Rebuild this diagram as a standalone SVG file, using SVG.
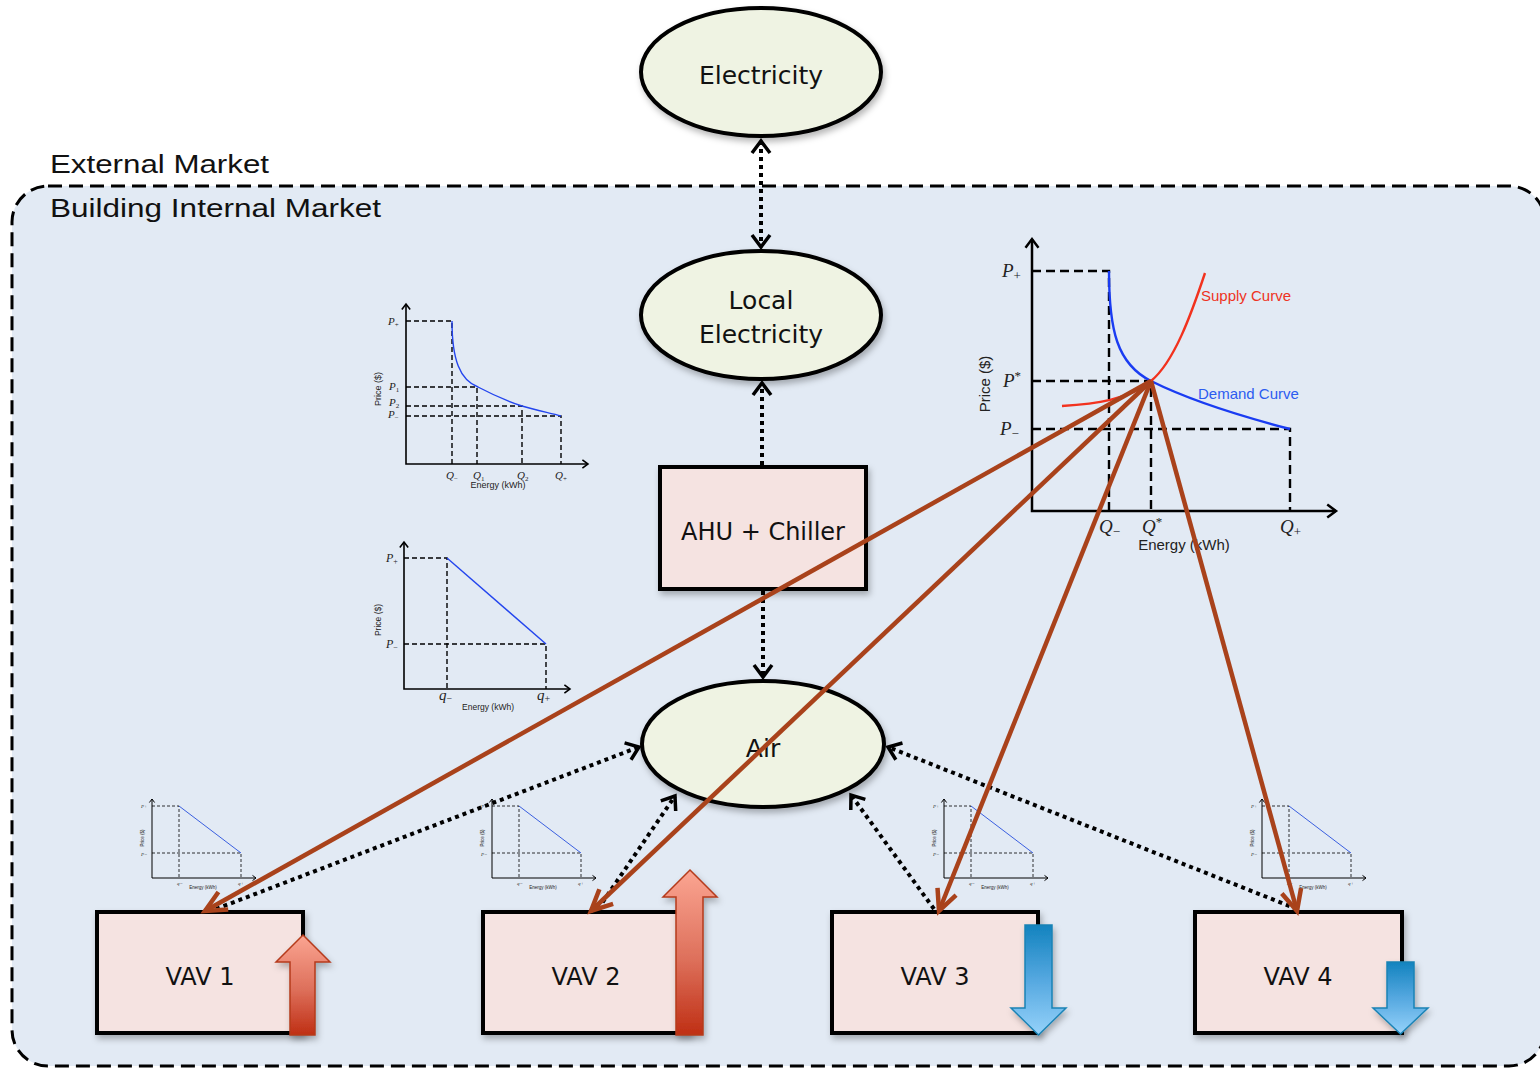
<svg xmlns="http://www.w3.org/2000/svg" xmlns:xlink="http://www.w3.org/1999/xlink" width="1540" height="1069" viewBox="0 0 1540 1069">
  <style>
    .node { fill: #eff3e3; stroke: #000; stroke-width: 4; }
    .box { fill: #f5e3e1; stroke: #000; stroke-width: 4; }
    .label { font-family: "DejaVu Sans", "Liberation Sans", sans-serif; fill: #111; text-anchor: middle; }
    .market { font-family: "Liberation Sans", Arial, sans-serif; font-size: 26px; fill: #111; }
    .dotted { fill: none; stroke: #000; stroke-width: 4; stroke-dasharray: 4 4; }
    .bid { fill: none; stroke: #a9421b; stroke-width: 4.5; }
    .axis { fill: none; stroke: #000; }
    .dash { fill: none; stroke: #000; }
    .math { font-family: "Liberation Serif", "Times New Roman", serif; font-style: italic; fill: #222; }
    .sans { font-family: "Liberation Sans", Arial, sans-serif; fill: #222; }
    .supply { fill: #ee3322; }
    .demand { fill: #2c5cf0; }
  </style>
  <defs>
    <filter id="shadow" x="-20%" y="-20%" width="140%" height="140%">
      <feDropShadow dx="2" dy="4" stdDeviation="3" flood-color="#000" flood-opacity="0.28"/>
    </filter>
    <marker id="open" viewBox="-16 -12 20 24" refX="0" refY="0" markerWidth="20" markerHeight="24" markerUnits="userSpaceOnUse" orient="auto-start-reverse" overflow="visible">
      <path d="M-12,-9 L0,0 L-12,9" fill="none" stroke="#000" stroke-width="3.5" stroke-dasharray="none"/>
    </marker>
    <marker id="bidHead" viewBox="-26 -14 30 28" refX="0" refY="0" markerWidth="30" markerHeight="28" markerUnits="userSpaceOnUse" orient="auto" overflow="visible">
      <path d="M-21,-10 L0,0 L-21,10" fill="none" stroke="#a9421b" stroke-width="4.5"/>
    </marker>
    <marker id="axisHead" viewBox="-5 -4 6 8" refX="0" refY="0" markerWidth="6" markerHeight="8" markerUnits="strokeWidth" orient="auto-start-reverse" overflow="visible">
      <path d="M-3.5,-2.6 L0,0 L-3.5,2.6" fill="none" stroke="#000" stroke-width="1"/>
    </marker>
    <linearGradient id="upGrad" x1="0" y1="0" x2="0" y2="1">
      <stop offset="0" stop-color="#fba592"/>
      <stop offset="0.55" stop-color="#dd6f5a"/>
      <stop offset="1" stop-color="#bf2f14"/>
    </linearGradient>
    <linearGradient id="downGrad" x1="0" y1="0" x2="0" y2="1">
      <stop offset="0" stop-color="#1383bf"/>
      <stop offset="0.5" stop-color="#55a8e0"/>
      <stop offset="1" stop-color="#95d2fa"/>
    </linearGradient>
    <!-- small price/energy chart reused above each VAV box -->
    <g id="miniChart">
      <path d="M0,799 V878 H104" class="axis" stroke="#222" stroke-width="1" marker-start="url(#axisHead)" marker-end="url(#axisHead)"/>
      <path d="M0,806 H27 V878 M0,853 H89 V878" class="dash" stroke="#333" stroke-width="0.8" stroke-dasharray="3 2"/>
      <path d="M27,806 L89,853" fill="none" stroke="#3a5fe0" stroke-width="1"/>
      <text class="math" x="-11" y="808" font-size="5">P+</text>
      <text class="math" x="-11" y="856" font-size="5">P−</text>
      <text class="math" x="25" y="885" font-size="5">q−</text>
      <text class="math" x="86" y="885" font-size="5">q+</text>
      <text class="sans" x="51" y="889" font-size="4.5" text-anchor="middle">Energy (kWh)</text>
      <text class="sans" x="-8" y="838" font-size="4.5" text-anchor="middle" transform="rotate(-90,-8,838)">Price ($)</text>
    </g>
  </defs>

  <rect width="1540" height="1069" fill="#fff"/>

  <!-- building internal market region -->
  <g id="internal-market">
    <rect x="12" y="186" width="1533" height="880" rx="36" fill="#e2eaf4" stroke="#000" stroke-width="3" stroke-dasharray="14 7"/>
    <text class="market" x="50" y="173" textLength="219" lengthAdjust="spacingAndGlyphs">External Market</text>
    <text class="market" x="50" y="217" textLength="331" lengthAdjust="spacingAndGlyphs">Building Internal Market</text>
  </g>

  <!-- aggregated demand curve chart -->
  <g id="chart-aggregate">
    <path d="M406,304 V464 H588" class="axis" stroke-width="1.6" marker-start="url(#axisHead)" marker-end="url(#axisHead)"/>
    <path d="M406,321 H452 V464 M406,387 H477 V464 M406,406 H522 V464 M406,416 H561 V464" class="dash" stroke-width="1.4" stroke-dasharray="5 3"/>
    <path d="M452,321 C452,360 460,380 478,387 C495,396 510,402 522,406 C535,410 550,413 561,416" fill="none" stroke="#2345ee" stroke-width="1.4"/>
    <text class="math" x="388" y="325" font-size="11">P<tspan font-size="7" font-style="normal" dy="2">+</tspan></text>
    <text class="math" x="389" y="390" font-size="11">P<tspan font-size="7" font-style="normal" dy="2">1</tspan></text>
    <text class="math" x="389" y="406" font-size="11">P<tspan font-size="7" font-style="normal" dy="2">2</tspan></text>
    <text class="math" x="388" y="418" font-size="11">P<tspan font-size="7" font-style="normal" dy="2">−</tspan></text>
    <text class="math" x="446" y="479" font-size="11">Q<tspan font-size="7" font-style="normal" dy="2">−</tspan></text>
    <text class="math" x="473" y="479" font-size="11">Q<tspan font-size="7" font-style="normal" dy="2">1</tspan></text>
    <text class="math" x="517" y="479" font-size="11">Q<tspan font-size="7" font-style="normal" dy="2">2</tspan></text>
    <text class="math" x="555" y="479" font-size="11">Q<tspan font-size="7" font-style="normal" dy="2">+</tspan></text>
    <text class="sans" x="498" y="488" font-size="9" text-anchor="middle">Energy (kWh)</text>
    <text class="sans" x="381" y="389" font-size="9" text-anchor="middle" transform="rotate(-90,381,389)">Price ($)</text>
  </g>

  <!-- linear bid curve chart -->
  <g id="chart-linear">
    <path d="M404,542 V689 H570" class="axis" stroke-width="1.6" marker-start="url(#axisHead)" marker-end="url(#axisHead)"/>
    <path d="M404,558 H447 V689 M404,644 H546 V689" class="dash" stroke-width="1.4" stroke-dasharray="5 3"/>
    <path d="M447,558 L546,644" fill="none" stroke="#2345ee" stroke-width="1.4"/>
    <text class="math" x="386" y="562" font-size="12">P<tspan font-size="8" font-style="normal" dy="2">+</tspan></text>
    <text class="math" x="386" y="648" font-size="12">P<tspan font-size="8" font-style="normal" dy="2">−</tspan></text>
    <text class="math" x="439" y="700" font-size="15">q<tspan font-size="10" font-style="normal" dy="2">−</tspan></text>
    <text class="math" x="537" y="700" font-size="15">q<tspan font-size="10" font-style="normal" dy="2">+</tspan></text>
    <text class="sans" x="488" y="710" font-size="8.5" text-anchor="middle">Energy (kWh)</text>
    <text class="sans" x="381" y="620" font-size="8.5" text-anchor="middle" transform="rotate(-90,381,620)">Price ($)</text>
  </g>

  <!-- market clearing chart: supply vs demand -->
  <g id="chart-clearing">
    <path d="M1032,239 V511 H1336" class="axis" stroke-width="2.5" marker-start="url(#axisHead)" marker-end="url(#axisHead)"/>
    <path d="M1032,271 H1109 V511 M1032,381 H1151 V511 M1032,429 H1290 V511" class="dash" stroke-width="2.4" stroke-dasharray="9 5"/>
    <path d="M1109,271 C1109,330 1117,364 1151,381 C1185,398 1240,416 1290,429" fill="none" stroke="#1a3cf2" stroke-width="2.4"/>
    <path d="M1062,406 C1095,404 1128,400 1151,381 C1174,362 1191,315 1205,273" fill="none" stroke="#f2321e" stroke-width="2.4"/>
    <text class="math" x="1002" y="277" font-size="19">P<tspan font-size="13" font-style="normal" dy="3">+</tspan></text>
    <text class="math" x="1003" y="387" font-size="19">P<tspan font-size="13" font-style="normal" dy="-7">*</tspan></text>
    <text class="math" x="1000" y="435" font-size="19">P<tspan font-size="13" font-style="normal" dy="3">−</tspan></text>
    <text class="math" x="1099" y="533" font-size="19">Q<tspan font-size="13" font-style="normal" dy="3">−</tspan></text>
    <text class="math" x="1142" y="533" font-size="19">Q<tspan font-size="13" font-style="normal" dy="-7">*</tspan></text>
    <text class="math" x="1280" y="533" font-size="19">Q<tspan font-size="13" font-style="normal" dy="3">+</tspan></text>
    <text class="sans" x="1184" y="550" font-size="15" text-anchor="middle">Energy (kWh)</text>
    <text class="sans" x="990" y="384" font-size="15" text-anchor="middle" transform="rotate(-90,990,384)">Price ($)</text>
    <text class="sans supply" x="1201" y="301" font-size="15">Supply Curve</text>
    <text class="sans demand" x="1198" y="399" font-size="15">Demand Curve</text>
  </g>

  <!-- bid charts for each VAV -->
  <g id="vav-charts">
    <use xlink:href="#miniChart" transform="translate(152,0)"/>
    <use xlink:href="#miniChart" transform="translate(492,0)"/>
    <use xlink:href="#miniChart" transform="translate(944,0)"/>
    <use xlink:href="#miniChart" transform="translate(1262,0)"/>
  </g>

  <!-- resource flow connectors -->
  <g id="connectors">
    <path d="M761,141 V247" class="dotted" marker-start="url(#open)" marker-end="url(#open)"/>
    <path d="M762,465 V383" class="dotted" marker-end="url(#open)"/>
    <path d="M763,591 V677" class="dotted" marker-end="url(#open)"/>
    <path d="M216,909 L639,747" class="dotted" marker-end="url(#open)"/>
    <path d="M598,909 L675,796" class="dotted" marker-end="url(#open)"/>
    <path d="M934,909 L851,795" class="dotted" marker-end="url(#open)"/>
    <path d="M1297,909 L888,747" class="dotted" marker-end="url(#open)"/>
  </g>

  <!-- energy sources and conversion -->
  <g id="electricity">
    <ellipse cx="761" cy="72" rx="120" ry="64" class="node" filter="url(#shadow)"/>
    <text class="label" x="761" y="84" font-size="25">Electricity</text>
  </g>
  <g id="local-electricity">
    <ellipse cx="761" cy="315" rx="120" ry="64" class="node" filter="url(#shadow)"/>
    <text class="label" x="761" y="309" font-size="25">Local</text>
    <text class="label" x="761" y="343" font-size="25">Electricity</text>
  </g>
  <g id="ahu-chiller">
    <rect x="660" y="467" width="206" height="122" class="box" filter="url(#shadow)"/>
    <text class="label" x="763" y="540" font-size="24">AHU + Chiller</text>
  </g>
  <g id="air">
    <ellipse cx="763" cy="744" rx="121" ry="63" class="node" filter="url(#shadow)"/>
    <text class="label" x="763" y="757" font-size="25">Air</text>
  </g>

  <!-- zone VAV units -->
  <g id="vav1">
    <rect x="97" y="912" width="206" height="121" class="box" filter="url(#shadow)"/>
    <text class="label" x="200" y="985" font-size="24">VAV 1</text>
  </g>
  <g id="vav2">
    <rect x="483" y="912" width="207" height="121" class="box" filter="url(#shadow)"/>
    <text class="label" x="586" y="985" font-size="24">VAV 2</text>
  </g>
  <g id="vav3">
    <rect x="832" y="912" width="206" height="121" class="box" filter="url(#shadow)"/>
    <text class="label" x="935" y="985" font-size="24">VAV 3</text>
  </g>
  <g id="vav4">
    <rect x="1195" y="912" width="207" height="121" class="box" filter="url(#shadow)"/>
    <text class="label" x="1298" y="985" font-size="24">VAV 4</text>
  </g>

  <!-- price signals from the clearing point -->
  <g id="price-signals">
    <path d="M1151,381 L205,911" class="bid" marker-end="url(#bidHead)"/>
    <path d="M1151,381 L591,911" class="bid" marker-end="url(#bidHead)"/>
    <path d="M1151,381 L939,911" class="bid" marker-end="url(#bidHead)"/>
    <path d="M1151,381 L1297,911" class="bid" marker-end="url(#bidHead)"/>
  </g>

  <!-- demand change indicators -->
  <g id="demand-changes" stroke-width="1.5" stroke-linejoin="miter">
    <polygon points="303,935 330,962 315,962 315,1035 290,1035 290,962 276,962" fill="url(#upGrad)" stroke="#b53b1b" filter="url(#shadow)"/>
    <polygon points="690,870 717,897 703,897 703,1035 676,1035 676,897 663,897" fill="url(#upGrad)" stroke="#b53b1b" filter="url(#shadow)"/>
    <polygon points="1025,925 1052,925 1052,1008 1066,1008 1038.5,1035 1011,1008 1025,1008" fill="url(#downGrad)" stroke="#1a83b5" filter="url(#shadow)"/>
    <polygon points="1387,962 1414,962 1414,1008 1428,1008 1400.5,1034 1373,1008 1387,1008" fill="url(#downGrad)" stroke="#1a83b5" filter="url(#shadow)"/>
  </g>
</svg>
